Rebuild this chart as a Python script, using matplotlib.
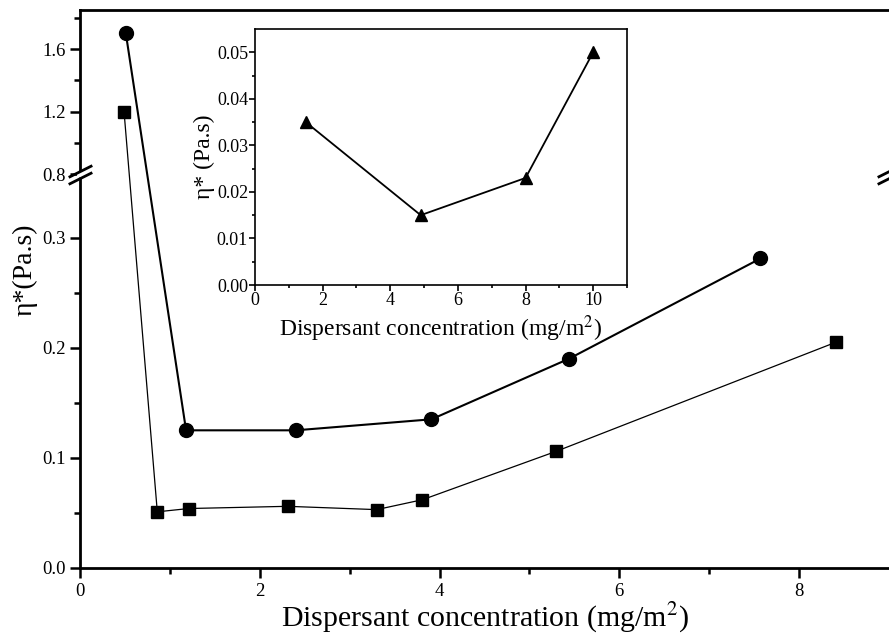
import numpy as np
import matplotlib.pyplot as plt
import matplotlib.transforms as mtransforms

plt.rcParams['font.family'] = ['Liberation Serif', 'DejaVu Serif']
plt.rcParams['mathtext.fontset'] = 'stix'

# Viscosity vs dispersant concentration (two suspensions)
conc_circle = [0.51, 1.18, 2.40, 3.91, 5.44, 7.57]
eta_circle = [1.70, 0.125, 0.125, 0.135, 0.190, 0.281]
conc_square = [0.49, 0.86, 1.21, 2.31, 3.30, 3.81, 5.30, 8.41]
eta_square = [1.20, 0.051, 0.054, 0.056, 0.053, 0.062, 0.106, 0.205]

# Inset series
conc_inset = [1.5, 4.9, 8.0, 10.0]
eta_inset = [0.035, 0.015, 0.023, 0.050]

x_major = [0, 2, 4, 6, 8]
y_major = [0.0, 0.1, 0.2, 0.3, 0.8, 1.2, 1.6]
y_minor = [0.05, 0.15, 0.25, 1.0, 1.4, 1.8]
inset_y_major = [0.0, 0.01, 0.02, 0.03, 0.04, 0.05]

# broken y axis: linear below 0.357, compressed linear above 0.8
y_pts = [0.0, 0.357, 0.8, 2.5]
t_pts = [0.0, 0.357, 0.3575, 0.3575 + 1.7 * 0.142]


def fwd(y):
    return np.interp(y, y_pts, t_pts)


def inv(t):
    return np.interp(t, t_pts, y_pts)


fig = plt.figure(figsize=(8.89, 6.43), dpi=100)
ax = fig.add_axes([80 / 889, 75 / 643, 809 / 889, 558 / 643])
ax.set_yscale('function', functions=(fwd, inv))

ax.plot(conc_circle, eta_circle, '-o', color='black', ms=10, lw=1.5)
ax.plot(conc_square, eta_square, '-s', color='black', ms=9, lw=0.9)

ax.set_xlim(0, 9)
ax.set_ylim(0, 1.85)
ax.set_xticks(x_major)
ax.set_xticks([1, 3, 5, 7], minor=True)
ax.set_yticks(y_major)
ax.set_yticklabels(['%.1f' % v for v in y_major])
ax.set_yticks(y_minor, minor=True)
ax.tick_params(which='both', direction='out', width=1.8, labelsize=13.5, top=False, right=False)
ax.tick_params(which='major', length=7)
ax.tick_params(which='minor', length=4)
ax.spines['right'].set_visible(False)
for s in ['left', 'bottom', 'top']:
    ax.spines[s].set_linewidth(2)

ax.set_xlabel('Dispersant concentration (mg/m$^2$)', fontsize=21.5, labelpad=1)
ax.set_ylabel('η*(Pa.s)', fontsize=20)
ax.yaxis.set_label_coords(-0.053, 0.535)

# break marks on the y axis
blend = mtransforms.blended_transform_factory(ax.transAxes, ax.transData)
slash = [(-1, -0.5), (1, 0.5)]
for xa, white in [(0.0, True), (1.0, False)]:
    if white:
        ax.plot([xa], [0.8], marker=[(0, -1), (0, 1)], ms=5, mew=5, color='white',
                transform=blend, clip_on=False, zorder=5)
    for dy in (-3.5, 3.5):
        off = mtransforms.ScaledTranslation(0, dy / 100, fig.dpi_scale_trans)
        ax.plot([xa], [0.8], marker=slash, ms=17, mew=2, color='black',
                transform=blend + off, clip_on=False, zorder=6)

# inset
axi = fig.add_axes([255 / 889, (643 - 285) / 643, 372 / 889, 256 / 643])
axi.plot(conc_inset, eta_inset, '-^', color='black', ms=9, lw=1.3)
axi.set_xlim(0, 11)
axi.set_ylim(0, 0.055)
axi.set_xticks([0, 2, 4, 6, 8, 10])
axi.set_xticks([1, 3, 5, 7, 9, 11], minor=True)
axi.set_yticks(inset_y_major)
axi.set_yticklabels(['%.2f' % v for v in inset_y_major])
axi.set_yticks(np.arange(0.005, 0.055, 0.01), minor=True)
axi.tick_params(which='both', direction='out', width=1.2, labelsize=13, pad=1)
axi.tick_params(which='major', length=4)
axi.tick_params(which='minor', length=2.5)
for s in axi.spines.values():
    s.set_linewidth(1.2)
axi.set_xlabel('Dispersant concentration (mg/m$^2$)', fontsize=17, labelpad=3)
axi.set_ylabel('η* (Pa.s)', fontsize=17, labelpad=1)

fig.savefig('out.png', dpi=100)
